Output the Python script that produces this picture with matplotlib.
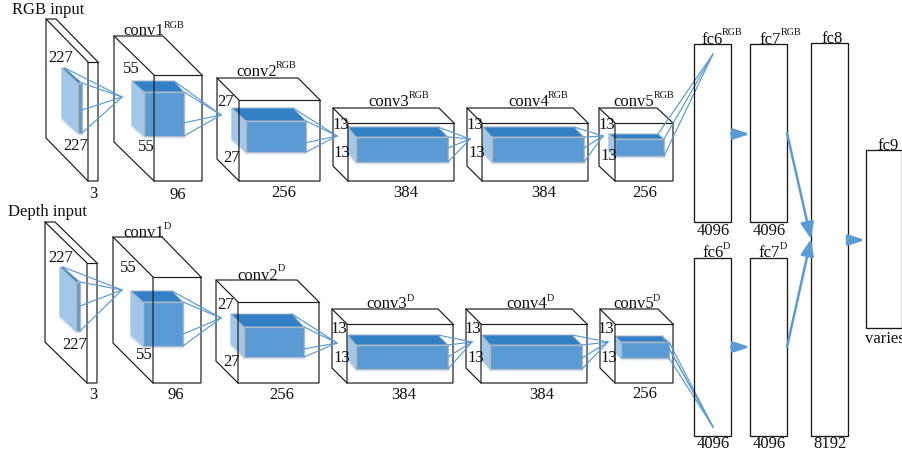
import matplotlib
matplotlib.use("Agg")
import matplotlib.pyplot as plt
from matplotlib.patches import Polygon, Rectangle, FancyArrowPatch

plt.rcParams['font.family'] = ['Liberation Serif', 'DejaVu Serif']

# outer layer cuboids: front x0, y0, x1, y1, back-corner x, y, back-top-right x
outer = [
    (88, 62, 98, 181, 46, 19, 56),
    (154, 75, 202, 181, 114, 36, 163),
    (239, 100, 320, 181, 217, 78, 298),
    (348, 123, 454, 181, 333, 108, 439),
    (482, 123, 588, 181, 467, 108, 573),
    (615, 123, 673, 181, 599, 108, 657),
    (87, 263, 97, 383, 45, 222, 55),
    (153, 277, 201, 383, 113, 237, 162),
    (238, 302, 319, 383, 216, 280, 297),
    (347, 324, 453, 383, 332, 309, 438),
    (481, 324, 587, 383, 466, 309, 572),
    (615, 324, 673, 383, 600, 309, 658),
]
# inner kernels: front x0, y0, x1, y1, back x, y, back-top-right x
inner = [
    (78, 83, 82, 133, 62, 68, 65),
    (144, 92, 184, 136, 132, 81, 174),
    (246, 121, 306, 152, 232, 108, 293),
    (356, 137, 448, 162, 348, 127, 438),
    (492, 137, 584, 162, 483, 127, 574),
    (615, 139, 664, 156, 609, 134, 658),
    (76, 282, 80, 331, 60, 267, 63),
    (143, 302, 183, 346, 131, 291, 172),
    (244, 327, 304, 357, 231, 314, 292),
    (356, 345, 448, 369, 348, 335, 438),
    (490, 345, 582, 369, 482, 335, 572),
    (621, 342, 669, 358, 615, 336, 662),
]
# projection apex for each kernel
apex = [(122, 97), (221, 115), (337, 136), (470, 139), (603, 136), (713, 54),
        (122, 290), (221, 318), (337, 343), (472, 342), (608, 342), (713, 427)]
# where the third projection line leaves the kernel face (fraction of height)
mid_line = [0.54, 0.7, 0.7, 0.44, 0.44, None, 0.49, 0.73, 0.73, 0.5, 0.54, 0.4]

# fully connected boxes: x0, y0, x1, y1
fc_boxes = [
    (694, 44, 731, 222), (750, 44, 787, 222),
    (811, 43, 848, 436), (866, 150, 902, 328),
    (694, 258, 731, 436), (750, 258, 787, 436),
]
# arrows: start x, y, end x, y, head length, head half-width
arrows = [
    (731, 134, 750, 134, 10, 3.3), (731, 347, 750, 347, 10, 3.3),
    (787, 133, 811, 239, 10, 4.0), (787, 347, 811, 239, 10, 4.0),
    (847, 240, 865, 240, 10, 3.3),
]
# main labels: text, x, baseline y
labels = [
    ("RGB input", 12, 14), ("Depth input", 8, 216),
    ("conv1", 123, 35), ("conv2", 236, 76), ("conv3", 368, 106),
    ("conv4", 508, 106), ("conv5", 613, 106),
    ("conv1", 123, 237), ("conv2", 237, 280), ("conv3", 366, 308),
    ("conv4", 506, 308), ("conv5", 613, 308),
    ("227", 48, 62), ("227", 63, 150), ("3", 89, 198),
    ("55", 123, 73), ("55", 138, 151), ("96", 170, 199),
    ("27", 217, 106), ("27", 223, 162), ("256", 271, 197),
    ("13", 332, 129), ("13", 333, 157), ("384", 393, 197),
    ("13", 466, 129), ("13", 468, 157), ("384", 531, 197),
    ("13", 598, 129), ("13", 600, 160), ("256", 632, 197),
    ("227", 48, 262), ("227", 62, 349), ("3", 89, 399),
    ("55", 120, 272), ("55", 136, 359), ("96", 168, 399),
    ("27", 217, 309), ("27", 223, 366), ("256", 269, 399),
    ("13", 330, 333), ("13", 333, 362), ("384", 391, 399),
    ("13", 464, 333), ("13", 467, 362), ("384", 529, 399),
    ("13", 597, 333), ("13", 600, 362), ("256", 632, 398),
    ("fc6", 701, 44), ("fc7", 759, 44), ("fc8", 821, 43), ("fc9", 877, 150),
    ("fc6", 702, 257), ("fc7", 758, 257),
    ("4096", 697, 235), ("4096", 753, 235),
    ("4096", 697, 448), ("4096", 753, 448), ("8192", 813, 448),
    ("varies", 865, 343),
]
# superscripts: text, x, baseline y
supers = [
    ("RGB", 164, 28), ("RGB", 276, 68), ("RGB", 409, 98), ("RGB", 548, 98),
    ("RGB", 654, 98), ("RGB", 722, 35), ("RGB", 781, 35),
    ("D", 164, 229), ("D", 278, 271), ("D", 407, 301), ("D", 547, 301),
    ("D", 653, 301), ("D", 723, 249), ("D", 780, 249),
]

BLUE = '#5B9BD5'
DARK = '#3380C6'
LIGHT = '#A2C7E8'
EDGE = '#AEB9C4'
INK = '#1a1a1a'

fig = plt.figure(figsize=(9.03, 4.57), dpi=100)
ax = fig.add_axes([0, 0, 1, 1])
ax.set_xlim(0, 903)
ax.set_ylim(457, 0)
ax.axis('off')


def draw_outer(b):
    x0, y0, x1, y1, bx, by, brx = b
    dy = y0 - by
    ax.add_patch(Polygon([(bx, by), (brx, by), (x1, y0), (x1, y1), (x0, y1), (bx, y1 - dy)],
                         closed=True, fc='none', ec=INK, lw=0.85, zorder=4, joinstyle='miter'))
    ax.plot([bx, x0, x0], [by, y0, y1], color=INK, lw=0.85, zorder=4)
    ax.plot([x0, x1], [y0, y0], color=INK, lw=0.85, zorder=4)


def draw_inner(b):
    x0, y0, x1, y1, bx, by, brx = b
    dy = y0 - by
    left = [(bx, by), (x0, y0), (x0, y1), (bx, y1 - dy)]
    top = [(bx, by), (brx, by), (x1, y0), (x0, y0)]
    front = [(x0, y0), (x1, y0), (x1, y1), (x0, y1)]
    # soft shadow below the kernel
    for grow, a in ((3.0, 0.10), (1.8, 0.14)):
        ax.add_patch(Polygon([(bx - grow * .4, by), (x1 + grow * .4, y0), (x1 + grow * .4, y1 + grow),
                              (x0, y1 + grow), (bx - grow * .4, y1 - dy + grow)],
                             closed=True, fc=BLUE, ec='none', alpha=a, zorder=2))
    ax.add_patch(Polygon(left, closed=True, fc=LIGHT, ec='#A8C4DE', lw=0.7, zorder=3))
    ax.add_patch(Polygon(top, closed=True, fc=DARK, ec='#9FB4C8', lw=0.7, zorder=3))
    ax.add_patch(Polygon(front, closed=True, fc=BLUE, ec=EDGE, lw=0.9, zorder=3))


for b in inner:
    draw_inner(b)
for b in outer:
    draw_outer(b)

# projection lines from the kernel corners to the apex
for b, (px, py), frac in zip(inner, apex, mid_line):
    x0, y0, x1, y1, bx, by, brx = b
    if frac is None:
        starts = [(brx, by), (x1, y0), (x1, y1)]
    else:
        starts = [(brx, by), (x1, y0), (x1, y0 + (y1 - y0) * frac), (x1, y1)]
    for sx, sy in starts:
        ax.plot([sx, px], [sy, py], color=BLUE, lw=0.85, zorder=5, solid_capstyle='round')

for x0, y0, x1, y1 in fc_boxes:
    ax.add_patch(Rectangle((x0, y0), x1 - x0, y1 - y0, fc='none', ec=INK, lw=0.95, zorder=6))

for x0, y0, x1, y1, hl, hw in arrows:
    ax.add_patch(FancyArrowPatch((x0, y0), (x1, y1),
                                 arrowstyle=f"-|>,head_length={hl},head_width={hw}",
                                 mutation_scale=1, lw=1.8, color=BLUE, shrinkA=0, shrinkB=0,
                                 zorder=7))

for t, x, y in labels:
    ax.text(x, y, t, fontsize=12, color='#111111', ha='left', va='baseline', zorder=8)
for t, x, y in supers:
    ax.text(x, y, t, fontsize=7.3, color='#111111', ha='left', va='baseline', zorder=8)

fig.savefig("out.png", dpi=100)
